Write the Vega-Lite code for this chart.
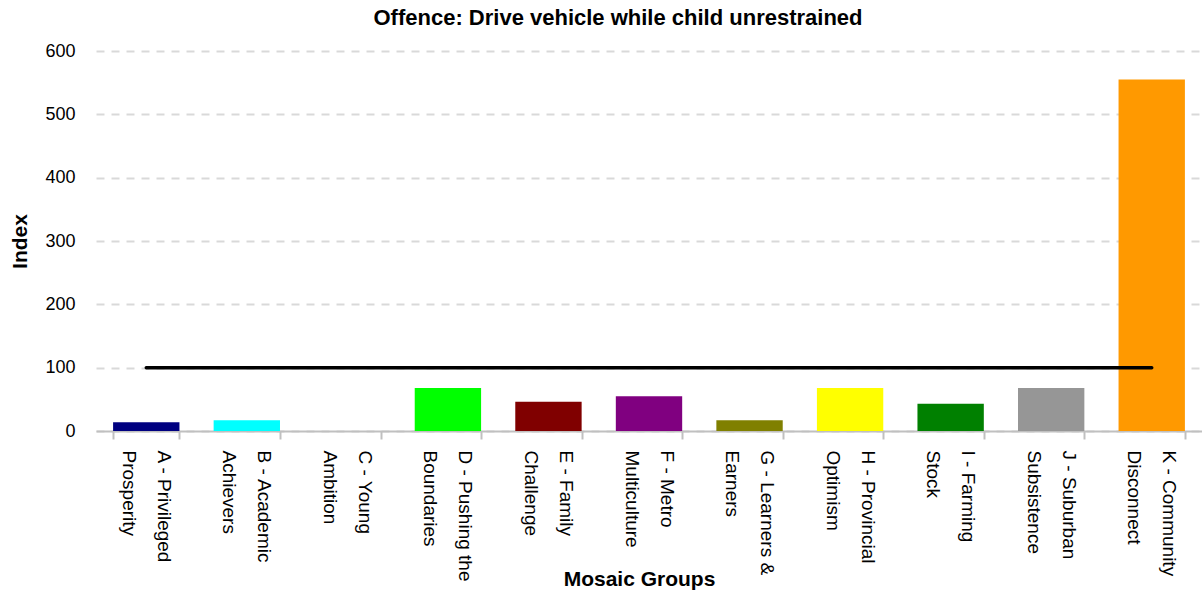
{
  "$schema": "https://vega.github.io/schema/vega-lite/v6.json",
  "autosize": {"type": "none"},
  "padding": {"left": 96, "top": 51, "right": 0, "bottom": 161},
  "width": 1106,
  "height": 380,
  "background": "white",
  "config": {
    "view": {"stroke": null},
    "font": "Liberation Sans"
  },
  "title": {
    "text": "Offence: Drive vehicle while child unrestrained",
    "font": "Liberation Sans",
    "fontSize": 22,
    "fontWeight": "bold",
    "color": "#000000",
    "anchor": "middle",
    "frame": "group",
    "baseline": "top",
    "dx": -31,
    "offset": 12
  },
  "datasets": {
    "groups": [
      {"group": "A - Privileged Prosperity", "index": 14},
      {"group": "B - Academic Achievers", "index": 17},
      {"group": "C - Young Ambition", "index": 0},
      {"group": "D - Pushing the Boundaries", "index": 68},
      {"group": "E - Family Challenge", "index": 46},
      {"group": "F - Metro Multiculture", "index": 55},
      {"group": "G - Learners & Earners", "index": 17},
      {"group": "H - Provincial Optimism", "index": 68},
      {"group": "I - Farming Stock", "index": 43},
      {"group": "J - Suburban Subsistence", "index": 68},
      {"group": "K - Community Disconnect", "index": 555}
    ],
    "average": [
      {"group": "A - Privileged Prosperity", "index": 100},
      {"group": "K - Community Disconnect", "index": 100}
    ]
  },
  "encoding": {
    "x": {
      "field": "group",
      "type": "nominal",
      "scale": {
        "domain": [
          "A - Privileged Prosperity",
          "B - Academic Achievers",
          "C - Young Ambition",
          "D - Pushing the Boundaries",
          "E - Family Challenge",
          "F - Metro Multiculture",
          "G - Learners & Earners",
          "H - Provincial Optimism",
          "I - Farming Stock",
          "J - Suburban Subsistence",
          "K - Community Disconnect"
        ],
        "paddingInner": 0.34,
        "paddingOuter": 0.17
      },
      "axis": {
        "title": "Mosaic Groups",
        "titleFont": "Liberation Sans",
        "titleFontSize": 21,
        "titleFontWeight": "bold",
        "titleColor": "#000000",
        "titleAlign": "center",
        "titleBaseline": "alphabetic",
        "titleX": 543,
        "titleY": 154,
        "tickBand": "extent",
        "domainColor": "#c0c0c0",
        "domainWidth": 2,
        "tickColor": "#c0c0c0",
        "tickWidth": 2,
        "tickSize": 8,
        "labelAngle": 90,
        "labelAlign": "left",
        "labelBaseline": "middle",
        "labelFont": "Liberation Sans",
        "labelFontSize": 19,
        "labelColor": "#000000",
        "labelLineHeight": 35,
        "labelPadding": 11,
        "labelOffset": 17,
        "labelLimit": 300,
        "labelOverlap": false,
        "labelExpr": "[slice(datum.label, 0, lastindexof(datum.label, ' ')), slice(datum.label, lastindexof(datum.label, ' ') + 1)]"
      }
    },
    "y": {
      "field": "index",
      "type": "quantitative",
      "scale": {"domain": [0, 600], "nice": false},
      "axis": {
        "title": "Index",
        "titleFont": "Liberation Sans",
        "titleFontSize": 21,
        "titleFontWeight": "bold",
        "titleColor": "#000000",
        "titlePadding": 14,
        "values": [0, 100, 200, 300, 400, 500, 600],
        "domain": false,
        "ticks": false,
        "labelFont": "Liberation Sans",
        "labelFontSize": 18,
        "labelColor": "#000000",
        "labelPadding": 21,
        "grid": true,
        "gridColor": "#d9d9d9",
        "gridWidth": 2,
        "gridDash": [8, 7]
      }
    }
  },
  "layer": [
    {
      "data": {"name": "groups"},
      "mark": {"type": "bar"},
      "encoding": {
        "color": {
          "field": "group",
          "type": "nominal",
          "legend": null,
          "scale": {
            "domain": [
              "A - Privileged Prosperity",
              "B - Academic Achievers",
              "C - Young Ambition",
              "D - Pushing the Boundaries",
              "E - Family Challenge",
              "F - Metro Multiculture",
              "G - Learners & Earners",
              "H - Provincial Optimism",
              "I - Farming Stock",
              "J - Suburban Subsistence",
              "K - Community Disconnect"
            ],
            "range": [
              "#000080",
              "#00ffff",
              "#ff00ff",
              "#00ff00",
              "#800000",
              "#800080",
              "#808000",
              "#ffff00",
              "#008000",
              "#969696",
              "#ff9900"
            ]
          }
        }
      }
    },
    {
      "data": {"name": "average"},
      "mark": {"type": "line", "color": "#000000", "strokeWidth": 3.5, "strokeCap": "round"}
    }
  ]
}
